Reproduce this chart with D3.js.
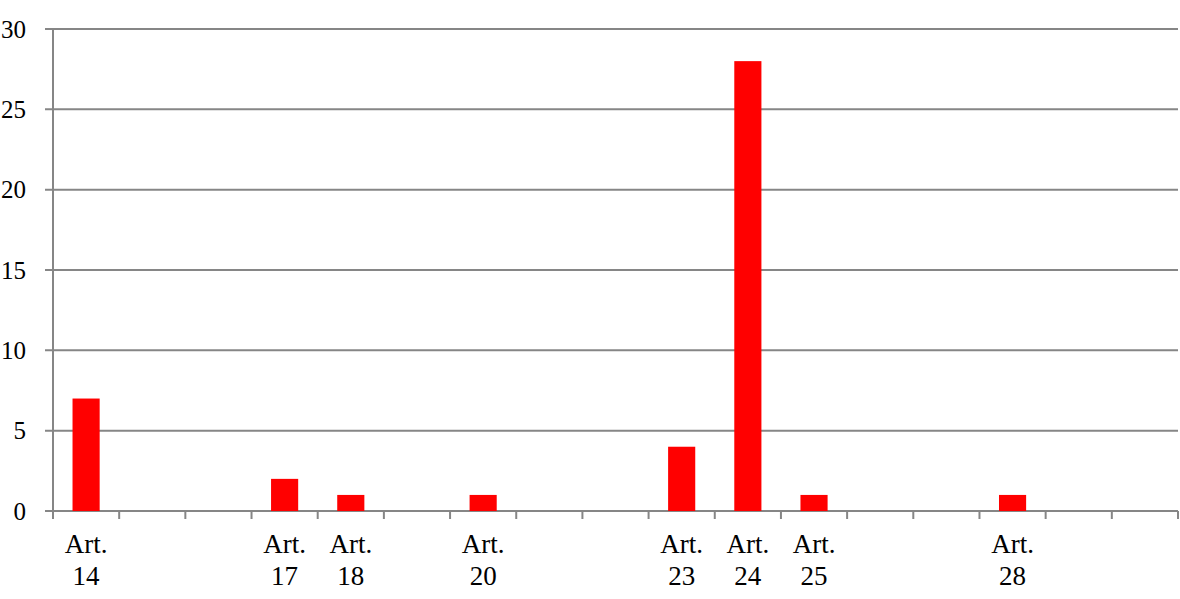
<!DOCTYPE html>
<meta charset="utf-8">
<title>Art. bar chart</title>
<style>
body {
  margin: 0;
  background: #fff;
}
svg text {
  font-family: "Liberation Serif", "Times New Roman", serif;
  fill: #000;
}
.grid line {
  stroke: #868686;
  stroke-width: 2px;
}
</style>
<body>
<script src="https://cdn.jsdelivr.net/npm/d3@7"></script>
<script>

// article numbers, the label under each slot, and the counts
var articles = ["14", "15", "16", "17", "18", "19", "20", "21", "22", "23", "24", "25", "26", "27", "28", "29", "30"];
var labels = ["14", "", "", "17", "18", "", "20", "", "", "23", "24", "25", "", "", "28", "", ""];
var counts = [7, 0, 0, 2, 1, 0, 1, 0, 0, 4, 28, 1, 0, 0, 1, 0, 0];
var yTicks = [0, 5, 10, 15, 20, 25, 30];

var width = 1180,
    height = 599,
    plotLeft = 53,
    plotRight = 1178,
    plotTop = 29,
    plotBottom = 511;

var svg = d3.select("body").append("svg")
    .attr("width", width)
    .attr("height", height);

var x = d3.scaleBand()
    .domain(articles)
    .range([plotLeft, plotRight])
    .paddingInner(0.59)
    .paddingOuter(0.295);

var y = d3.scaleLinear()
    .domain([0, 30])
    .range([plotBottom, plotTop]);

// horizontal grid lines (they start at the tick mark)
svg.append("g")
    .attr("class", "grid")
  .selectAll("line")
    .data(yTicks)
  .enter().append("line")
    .attr("x1", plotLeft - 8)
    .attr("x2", plotRight)
    .attr("y1", function(d) { return y(d); })
    .attr("y2", function(d) { return y(d); });

// y axis labels
var yAxis = svg.append("g")
    .attr("transform", "translate(" + plotLeft + ",0)")
    .call(d3.axisLeft(y).tickValues(yTicks).tickSize(8).tickPadding(19));

yAxis.select(".domain").remove();
yAxis.selectAll(".tick line").remove();
yAxis.selectAll("text")
    .style("font-size", "25px")
    .attr("dy", "0.33em");

// vertical axis line
svg.append("line")
    .attr("x1", plotLeft)
    .attr("x2", plotLeft)
    .attr("y1", plotTop)
    .attr("y2", plotBottom + 8)
    .attr("stroke", "#868686")
    .attr("stroke-width", 2);

// tick marks between the categories
var step = x.step();
svg.append("g")
    .attr("class", "grid")
  .selectAll("line")
    .data(d3.range(articles.length + 1))
  .enter().append("line")
    .attr("x1", function(i) { return plotLeft + i * step; })
    .attr("x2", function(i) { return plotLeft + i * step; })
    .attr("y1", plotBottom)
    .attr("y2", plotBottom + 8);

// bars
svg.append("g")
  .selectAll("rect")
    .data(counts)
  .enter().append("rect")
    .attr("x", function(d, i) { return x(articles[i]); })
    .attr("width", x.bandwidth())
    .attr("y", function(d) { return y(d); })
    .attr("height", function(d) { return y(0) - y(d); })
    .attr("fill", "#ff0000");

// category labels on two lines
var lab = svg.append("g")
  .selectAll("text")
    .data(labels)
  .enter().filter(function(d) { return d !== ""; })
  .append("text")
    .attr("text-anchor", "middle")
    .style("font-size", "27px")
    .attr("transform", function(d) {
      return "translate(" + (x(articles[labels.indexOf(d)]) + x.bandwidth() / 2) + ",0)";
    });

lab.append("tspan")
    .attr("x", 0)
    .attr("y", 553)
    .text("Art.");

lab.append("tspan")
    .attr("x", 0)
    .attr("y", 585)
    .text(function(d) { return d; });

</script>
</body>
